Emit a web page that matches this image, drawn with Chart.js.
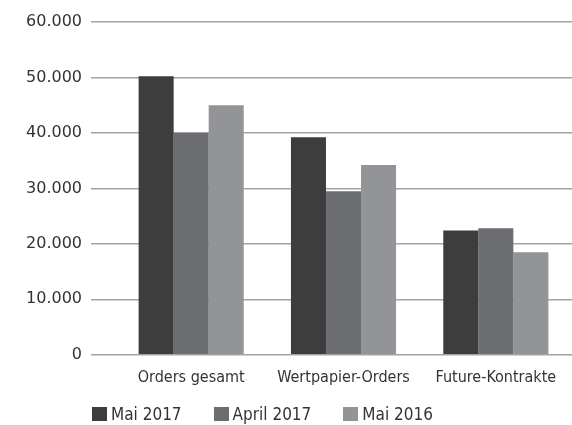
<!DOCTYPE html>
<html>
<head>
<meta charset="utf-8">
<script src="https://cdn.jsdelivr.net/npm/chart.js@4"></script>
<style>
  body { margin: 0; background: #fff; }
  #wrap { position: relative; width: 572px; height: 425px; }
  #chart { position: absolute; left: 0; top: 0; }
  #legend { position: absolute; left: 92px; top: 404px; display: flex; font: 17px "DejaVu Sans Condensed", "DejaVu Sans", sans-serif; color: #333; }
  #legend span.item { display: flex; align-items: center; margin-right: 32px; }
  #legend span.box { display: inline-block; width: 15px; height: 14px; margin-right: 4px; }
</style>
</head>
<body>
<div id="wrap">
  <canvas id="chart" width="572" height="410"></canvas>
  <div id="legend"></div>
</div>
<script>
// Daten
var kategorien = ["Orders gesamt", "Wertpapier-Orders", "Future-Kontrakte"];
var mai2017 = [50200, 39200, 22400];
var april2017 = [40000, 29500, 22800];
var mai2016 = [45000, 34200, 18500];
var serien = ["Mai 2017", "April 2017", "Mai 2016"];
var farben = ["#3d3d3d", "#6c6d70", "#939497"];

var schrift = { family: '"DejaVu Sans Condensed", "DejaVu Sans", sans-serif', size: 16 };

var chart = new Chart(document.getElementById("chart"), {
  type: "bar",
  data: {
    labels: kategorien,
    datasets: [
      { label: serien[0], data: mai2017, backgroundColor: farben[0] },
      { label: serien[1], data: april2017, backgroundColor: farben[1] },
      { label: serien[2], data: mai2016, backgroundColor: farben[2] }
    ]
  },
  options: {
    responsive: false,
    animation: false,
    layout: { padding: { top: 22, right: 0, bottom: 10, left: 0 } },
    datasets: { bar: { categoryPercentage: 0.69, barPercentage: 1.0 } },
    plugins: { legend: { display: false }, tooltip: { enabled: false } },
    scales: {
      x: {
        grid: { display: false, drawTicks: false },
        border: { display: false },
        ticks: { color: "#333", font: schrift, padding: 13 }
      },
      y: {
        min: 0,
        max: 60000,
        afterFit: function (scale) { scale.width = 115; },
        grid: { color: "#a3a3a3", lineWidth: 1.5, tickLength: 24 },
        border: { display: false },
        ticks: {
          stepSize: 10000,
          padding: 9,
          color: "#333",
          font: { family: '"DejaVu Sans", sans-serif', size: 16 },
          callback: function (v) { return v === 0 ? "0" : v.toLocaleString("de-DE"); }
        }
      }
    }
  }
});

// Legende als HTML
var legende = document.getElementById("legend");
chart.data.datasets.forEach(function (ds) {
  var item = document.createElement("span");
  item.className = "item";
  item.innerHTML = '<span class="box" style="background:' + ds.backgroundColor + '"></span>' + ds.label;
  legende.appendChild(item);
});
</script>
</body>
</html>
